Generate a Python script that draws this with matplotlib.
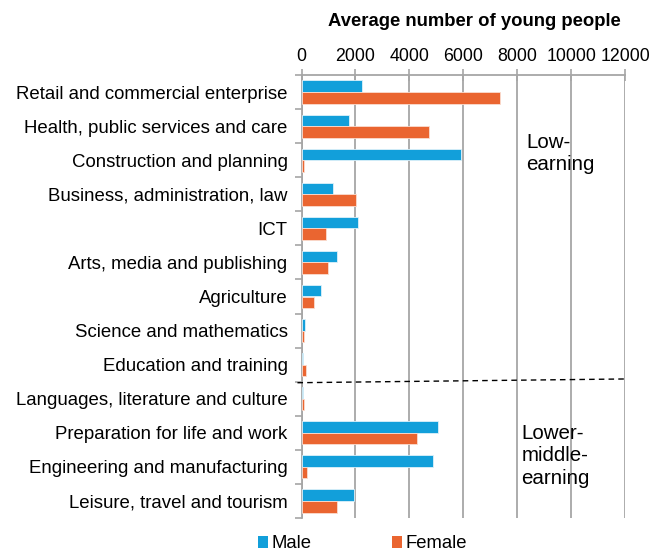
import matplotlib
matplotlib.use("Agg")
import matplotlib.pyplot as plt
from matplotlib.patches import Patch
import numpy as np

plt.rcParams['font.family'] = ['Liberation Sans', 'DejaVu Sans']

categories = [
    "Retail and commercial enterprise",
    "Health, public services and care",
    "Construction and planning",
    "Business, administration, law",
    "ICT",
    "Arts, media and publishing",
    "Agriculture",
    "Science and mathematics",
    "Education and training",
    "Languages, literature and culture",
    "Preparation for life and work",
    "Engineering and manufacturing",
    "Leisure, travel and tourism",
]
male = [2260, 1770, 5910, 1170, 2110, 1330, 730, 140, 50, 50, 5060, 4860, 1950]
female = [7370, 4740, 90, 2010, 900, 980, 480, 110, 150, 90, 4290, 210, 1300]
x_ticks = [0, 2000, 4000, 6000, 8000, 10000, 12000]

blue = "#129FDA"
orange = "#EA6530"
grid_c = "#A6A6A6"

fig = plt.figure(figsize=(6.53, 5.54), dpi=100)
ax = fig.add_axes([301.5 / 653, 1 - 518 / 554, (625 - 301.5) / 653, (518 - 75) / 554])

y = np.arange(len(categories))
h = 0.34
ax.barh(y - h / 2, male, height=h, color=blue, edgecolor="#DDF1FA", linewidth=0.6, zorder=3)
ax.barh(y + h / 2, female, height=h, color=orange, edgecolor="#FADDD0", linewidth=0.6, zorder=3)

ax.set_ylim(len(categories) - 0.5, -0.5)
ax.set_xlim(0, 12000)

ax.xaxis.tick_top()
ax.xaxis.set_label_position("top")
ax.set_xticks(x_ticks)
ax.set_xticklabels([str(v) for v in x_ticks], fontsize=12.8)
ax.tick_params(axis="x", direction="inout", length=8, width=1.2, color=grid_c, pad=3)
ax.set_xlabel("Average number of young people", fontsize=13.3, fontweight="bold", labelpad=16)
ax.xaxis.label.set_x(0.533)

ax.set_yticks(y)
ax.set_yticklabels(categories, fontsize=13.4)
ax.tick_params(axis="y", which="major", length=0, pad=10)
ax.set_yticks(np.arange(-0.5, len(categories) + 0.5, 1), minor=True)
ax.tick_params(axis="y", which="minor", length=5, width=1.2, color=grid_c, direction="out")

ax.grid(axis="x", color=grid_c, linewidth=1.3, zorder=0)
for s in ["right", "bottom"]:
    ax.spines[s].set_visible(False)
ax.spines["top"].set_color(grid_c)
ax.spines["top"].set_linewidth(1.3)
ax.spines["left"].set_color(grid_c)
ax.spines["left"].set_linewidth(1.3)

# divider between the earning groups
ax.plot([-150, 12000], [8.53, 8.42], linestyle=(0, (4, 3)), color="black", linewidth=1.0,
        zorder=4, clip_on=False)

ax.text(8350, 1.8, "Low-\nearning", fontsize=14.8, va="center", ha="left", linespacing=1.25)
ax.text(8150, 10.68, "Lower-\nmiddle-\nearning", fontsize=14.8, va="center", ha="left",
        linespacing=1.25)

handles = [Patch(facecolor=blue, label="Male"), Patch(facecolor=orange, label="Female")]
fig.legend(handles=handles, loc="center", bbox_to_anchor=(0.555, 1 - 544 / 554), ncol=2,
           frameon=False, fontsize=13.3, handlelength=0.55, handleheight=0.55,
           handletextpad=0.15, columnspacing=4.4, borderpad=0)

fig.savefig("out.png", dpi=100)
